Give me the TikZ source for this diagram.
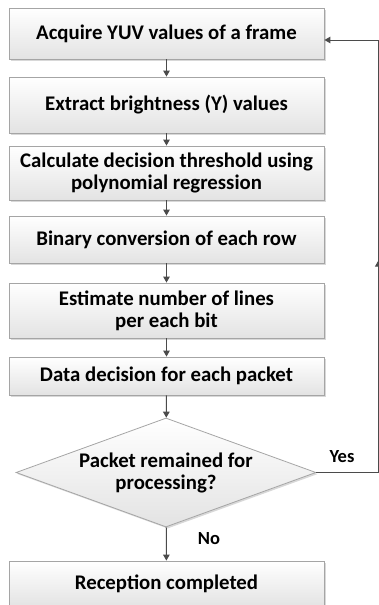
\documentclass[tikz,border=0pt]{standalone}
\usepackage{fontspec}
\setmainfont{Carlito}
\usetikzlibrary{shapes.geometric,arrows.meta,shadows,decorations.markings}
\definecolor{boxline}{RGB}{165,165,165}
\definecolor{arrowcol}{RGB}{75,75,75}
\begin{document}
\begin{tikzpicture}[x=1pt,y=-1pt,
  every node/.style={font=\fontsize{20.8}{22}\selectfont\bfseries, text=black, align=center},
  procbox/.style={rectangle, draw=boxline, line width=0.8pt, top color=white, bottom color=black!11,
    minimum width=315pt, inner sep=0pt,
    drop shadow={shadow xshift=1.6pt, shadow yshift=-1.6pt, fill=black!30, opacity=0.5}},
  decbox/.style={diamond, draw=boxline, line width=0.8pt, top color=white, bottom color=black!11,
    minimum width=300pt, minimum height=109pt, inner sep=0pt, aspect=2.75,
    drop shadow={shadow xshift=1.6pt, shadow yshift=-1.6pt, fill=black!30, opacity=0.5}},
  flow/.style={draw=arrowcol, line width=1pt, -{Triangle[length=6pt,width=6.5pt]}},
  lbl/.style={font=\fontsize{18.5}{20}\selectfont\bfseries}
]
\useasboundingbox (0,0) rectangle (379,605);
\node[procbox, minimum height=51pt] (b1) at (166.5,33.5) {Acquire YUV values of a frame};
\node[procbox, minimum height=56pt] (b2) at (166.5,105) {Extract brightness (Y) values};
\node[procbox, minimum height=54pt] (b3) at (166.5,173) {Calculate decision threshold using\\polynomial regression};
\node[procbox, minimum height=47pt] (b4) at (166.5,239.5) {Binary conversion of each row};
\node[procbox, minimum height=55pt] (b5) at (166.5,310.5) {Estimate number of lines\\per each bit};
\node[procbox, minimum height=38pt] (b6) at (166.5,376) {Data decision for each packet};
\node[decbox] (d1) at (166,472.5) {Packet remained for\\processing?};
\node[procbox, minimum height=46pt] (b7) at (166.5,584) {Reception completed};
\draw[flow] (b1) -- (b2);
\draw[flow] (b2) -- (b3);
\draw[flow] (b3) -- (b4);
\draw[flow] (b4) -- (b5);
\draw[flow] (b5) -- (b6);
\draw[flow] (b6) -- (d1);
\draw[flow] (d1) -- (b7);
\coordinate (c1) at (378.3,472.5);
\coordinate (c2) at (378.3,40);
\draw[draw=arrowcol, line width=1pt] (d1.east) -- (c1);
\draw[draw=arrowcol, line width=1pt, postaction={decorate}, decoration={markings,
   mark=at position 0.49 with {\arrow{Triangle[length=6pt,width=6.5pt]}}}] (c1) -- (c2);
\draw[flow] (c2) -- (b1.east |- c2);
\node[lbl] (yes) at (342,457) {Yes};
\node[lbl] (no) at (209,539) {No};
\end{tikzpicture}
\end{document}
